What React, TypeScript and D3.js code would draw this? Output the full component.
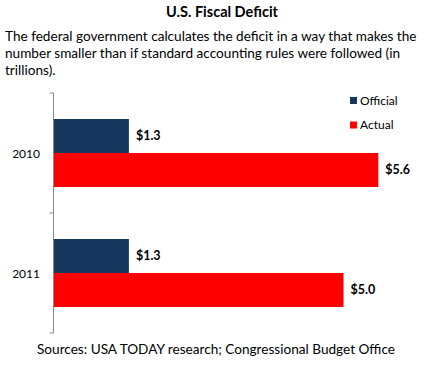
import React from 'react';
import * as d3 from 'd3';

const years = ['2010', '2011'];
const seriesNames = ['Official', 'Actual'];
const official = [1.3, 1.3];
const actual = [5.6, 5.0];
const seriesColors = ['#17375E', '#FF0000'];

const title = 'U.S. Fiscal Deficit';
const subtitleLines = [
  'The federal government calculates the deficit in a way that makes the',
  'number smaller than if standard accounting rules were followed (in',
  'trillions).',
];
const source = 'Sources: USA TODAY research; Congressional Budget Office';

const W = 431;
const H = 365;
const font = 'Lato, "Open Sans", sans-serif';

export default function App() {
  const x = d3.scaleLinear().domain([0, 6]).range([53.5, 401.5]);
  const y = d3.scaleBand().domain(years).range([93, 333]);
  const inner = d3
    .scaleBand()
    .domain(seriesNames)
    .range([0, y.bandwidth()])
    .paddingInner(0)
    .paddingOuter(0.765);

  const rows = years.map((yr, i) => ({ yr, vals: [official[i], actual[i]] }));
  const ticks = [...years.map((d) => y(d) as number), y.range()[1]];

  return (
    <svg
      width={W}
      height={H}
      style={{ position: 'absolute', left: 0, top: 0, background: '#fff' }}
      fontFamily={font}
    >
      <text x={222} y={17} textAnchor="middle" fontSize={14.5} fontWeight="bold" fill="#000">
        {title}
      </text>
      {subtitleLines.map((t, i) => (
        <text key={i} x={5} y={41 + i * 17} fontSize={13.6} fill="#000">
          {t}
        </text>
      ))}

      {rows.map((r) => (
        <g key={r.yr} transform={`translate(0,${y(r.yr)})`}>
          {r.vals.map((v, j) => {
            const s = seriesNames[j];
            const by = inner(s) as number;
            return (
              <g key={s}>
                <rect
                  x={x(0)}
                  y={by}
                  width={x(v) - x(0)}
                  height={inner.bandwidth()}
                  fill={seriesColors[j]}
                />
                <text
                  x={x(v) + 7}
                  y={by + inner.bandwidth() / 2}
                  dy="0.35em"
                  fontSize={12.5}
                  fontWeight="bold"
                  fill="#000"
                >
                  {'$' + v.toFixed(1)}
                </text>
              </g>
            );
          })}
          <text
            x={40}
            y={y.bandwidth() / 2 + 1}
            dy="0.35em"
            textAnchor="end"
            fontSize={12}
            fill="#000"
          >
            {r.yr}
          </text>
        </g>
      ))}

      <line x1={x(0)} x2={x(0)} y1={y.range()[0]} y2={y.range()[1]} stroke="#888" strokeWidth={1} />
      {ticks.map((t, i) => (
        <line key={i} x1={x(0) - 4} x2={x(0)} y1={t} y2={t} stroke="#888" strokeWidth={1} />
      ))}

      {seriesNames.map((s, i) => (
        <g key={s} transform={`translate(350,${97 + i * 24.5})`}>
          <rect x={0} y={0} width={7} height={7} fill={seriesColors[i]} />
          <text x={10} y={3.5} dy="0.35em" fontSize={12} fill="#000">
            {s}
          </text>
        </g>
      ))}

      <text x={216} y={354} textAnchor="middle" fontSize={13.6} fill="#000">
        {source}
      </text>
    </svg>
  );
}
